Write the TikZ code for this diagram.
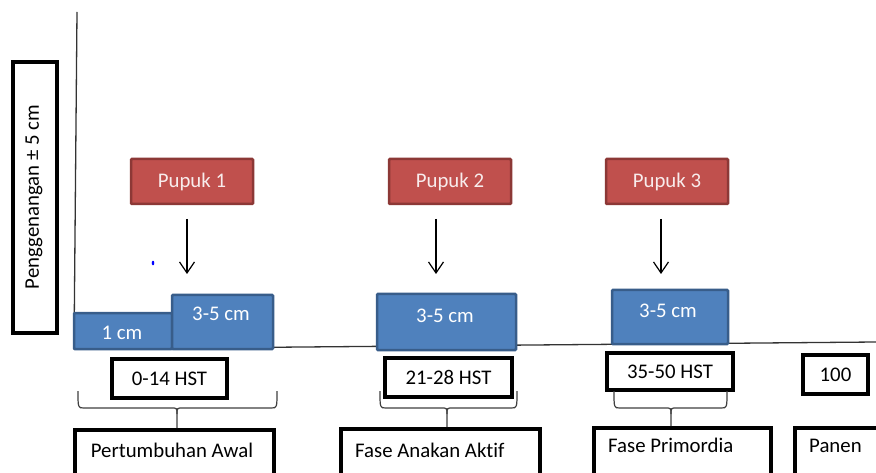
\documentclass[tikz,border=0pt]{standalone}
\usepackage{fontspec}
\setmainfont{Carlito}[Ligatures=NoCommon]
\usetikzlibrary{arrows.meta}
\definecolor{redf}{HTML}{C0504D}
\definecolor{redd}{HTML}{8C3836}
\definecolor{bluef}{HTML}{4F81BD}
\definecolor{blued}{HTML}{385D8A}
\definecolor{pinkw}{HTML}{F8ECEC}
\begin{document}
\begin{tikzpicture}[x=1pt,y=-1pt,font=\fontsize{20.8}{25}\selectfont,
  redbox/.style={draw=redd, fill=redf, line width=2.5pt, text=pinkw, inner sep=0pt, rounded corners=1pt},
  bluebox/.style={draw=blued, fill=bluef, line width=2.5pt, inner sep=0pt, rounded corners=1pt},
  bluetxt/.style={text=white, inner sep=0pt},
  blackbox/.style={draw=black, line width=4pt, fill=white, inner sep=0pt},
  plaintxt/.style={inner sep=0pt},
  bracepath/.style={draw=black!75, line width=1.2pt},
  axisline/.style={draw=black!80, line width=1.3pt},
  fertarrow/.style={-{Straight Barb[length=11pt,width=15pt]}, line width=1.2pt}]
\useasboundingbox (0,0) rectangle (876,473);
\clip (0,0) rectangle (876,473);
\fill[white] (0,0) rectangle (876,473);

% axes
\coordinate (ytop) at (77,12);
\coordinate (orig) at (74,349);
\coordinate (xend) at (876,342);
\draw[axisline] (ytop) -- (orig) -- (xend);

% y label
\node[blackbox, minimum width=44, minimum height=271] (pg) at (35,197.5) {};
\node[plaintxt, rotate=90] (pgt) at (34,197) {Penggenangan ± 5 cm};

% fertiliser boxes
\node[redbox, minimum width=122, minimum height=45] (p1) at (192,181.5) {Pupuk 1};
\node[redbox, minimum width=122, minimum height=45] (p2) at (450,181.5) {Pupuk 2};
\node[redbox, minimum width=122, minimum height=45] (p3) at (667,181.5) {Pupuk 3};

% arrows
\coordinate (a1s) at (187,219); \coordinate (a1e) at (187,274);
\coordinate (a2s) at (436,219); \coordinate (a2e) at (436,274);
\coordinate (a3s) at (661,219); \coordinate (a3e) at (661,274);
\draw[fertarrow] (a1s) -- (a1e);
\draw[fertarrow] (a2s) -- (a2e);
\draw[fertarrow] (a3s) -- (a3e);

% blue dot
\fill[blue] (153,263) ellipse (1.3 and 2.3);

% water level boxes
\node[bluebox, minimum width=98, minimum height=36] (w1) at (123,331) {};
\node[bluetxt] (w1t) at (122,333) {1 cm};
\node[bluebox, minimum width=101, minimum height=54] (w2) at (222.5,322) {};
\node[bluetxt] (w2t) at (221,314) {3-5 cm};
\node[bluebox, minimum width=139, minimum height=56] (w3) at (446.5,322) {};
\node[bluetxt] (w3t) at (445,316) {3-5 cm};
\node[bluebox, minimum width=116, minimum height=54] (w4) at (670,317) {};
\node[bluetxt] (w4t) at (668,311) {3-5 cm};

% day boxes
\node[blackbox, minimum width=115, minimum height=39] (d1) at (169.5,378.5) {0-14 HST};
\node[blackbox, minimum width=127, minimum height=39] (d2) at (448.5,377.5) {21-28 HST};
\node[blackbox, minimum width=126, minimum height=37] (d3) at (670,371.5) {35-50 HST};
\node[blackbox, minimum width=65, minimum height=39] (d4) at (835.5,374.5) {100};

% phase boxes
\node[blackbox, anchor=north west, minimum width=199, minimum height=70] (f1) at (73,428) {};
\node[plaintxt] (f1t) at (172,450) {Pertumbuhan Awal};
\node[blackbox, anchor=north west, minimum width=199, minimum height=70] (f2) at (339,427) {};
\node[plaintxt, anchor=west] (f2t) at (355,450) {Fase Anakan Aktif};
\node[blackbox, anchor=north west, minimum width=177, minimum height=70] (f3) at (592,426) {};
\node[plaintxt, anchor=west] (f3t) at (608,445) {Fase Primordia};
\node[blackbox, anchor=north west, minimum width=110, minimum height=70] (f4) at (793,426) {};
\node[plaintxt, anchor=west] (f4t) at (809,446) {Panen};

% braces
\draw[bracepath] (78,391) .. controls (78,408) .. (84,408) -- (171,408) .. controls (177,408) .. (177,414) -- (f1.north -| 177,0);
\draw[bracepath] (277,391) .. controls (277,408) .. (271,408) -- (183,408) .. controls (177,408) .. (177,414);
\draw[bracepath] (380,391) .. controls (380,408) .. (386,408) -- (441,408) .. controls (447,408) .. (447,414) -- (f2.north -| 447,0);
\draw[bracepath] (517,391) .. controls (517,408) .. (511,408) -- (453,408) .. controls (447,408) .. (447,414);
\draw[bracepath] (614,391) .. controls (614,408) .. (620,408) -- (665,408) .. controls (671,408) .. (671,414) -- (f3.north -| 671,0);
\draw[bracepath] (727,391) .. controls (727,408) .. (721,408) -- (677,408) .. controls (671,408) .. (671,414);
\end{tikzpicture}
\end{document}
